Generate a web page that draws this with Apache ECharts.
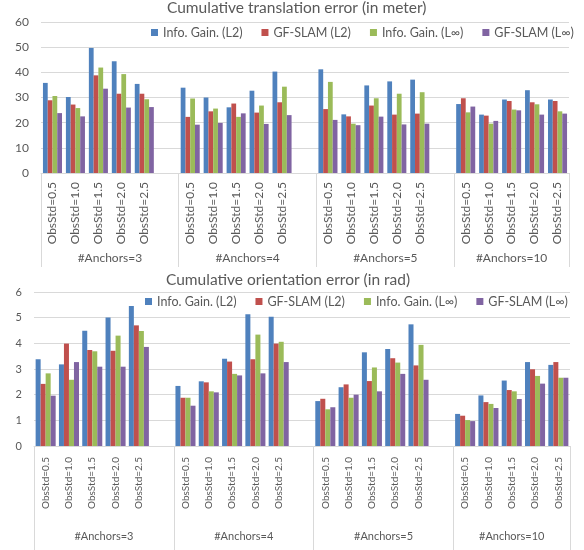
<!DOCTYPE html>
<html>
<head>
<meta charset="utf-8">
<script src="https://cdn.jsdelivr.net/npm/echarts@6/dist/echarts.min.js"></script>
<style>
  html, body {margin: 0; padding: 0; background: #fff;}
  #chart {width: 584px; height: 550px;}
</style>
</head>
<body>
<div id="chart"></div>
<script>
// categories
const obsStd = ['ObsStd=0.5', 'ObsStd=1.0', 'ObsStd=1.5', 'ObsStd=2.0', 'ObsStd=2.5'];
const anchors = ['#Anchors=3', '#Anchors=4', '#Anchors=5', '#Anchors=10'];
const seriesNames = ['Info. Gain. (L2)', 'GF-SLAM (L2)', 'Info. Gain. (L\u221e)', 'GF-SLAM (L\u221e)'];
const colors = ['#4f81bd', '#c0504d', '#9bbb59', '#8064a2'];

// cumulative translation error (m), 5 ObsStd values per anchor group
const transInfoL2 = [35.8, 30.2, 49.7, 44.4, 35.4, 33.9, 30.0, 26.1, 32.7, 40.3, 41.2, 23.3, 34.8, 36.4, 37.1, 27.4, 23.2, 29.2, 32.9, 29.2];
const transGfL2 = [28.9, 27.2, 38.8, 31.5, 31.5, 22.3, 24.5, 27.6, 24.0, 28.1, 25.4, 22.5, 26.8, 23.2, 23.6, 29.7, 22.8, 28.6, 28.1, 28.6];
const transInfoLinf = [30.6, 25.8, 41.9, 39.3, 29.3, 29.6, 25.6, 22.3, 26.8, 34.3, 36.2, 19.6, 29.7, 31.5, 32.1, 24.1, 19.6, 25.2, 27.3, 24.5];
const transGfLinf = [23.8, 22.5, 33.5, 26.0, 26.2, 19.2, 19.9, 23.7, 19.5, 23.0, 21.1, 19.0, 22.4, 19.3, 19.6, 26.4, 20.7, 24.9, 23.2, 23.6];

// cumulative orientation error (rad)
const orientInfoL2 = [3.38, 3.18, 4.49, 5.01, 5.45, 2.34, 2.52, 3.40, 5.13, 5.04, 1.75, 2.29, 3.65, 3.78, 4.74, 1.25, 1.97, 2.55, 3.27, 3.16];
const orientGfL2 = [2.42, 3.99, 3.74, 3.71, 4.70, 1.88, 2.48, 3.29, 3.38, 3.99, 1.84, 2.40, 2.53, 3.42, 3.14, 1.18, 1.71, 2.18, 2.99, 3.27];
const orientInfoLinf = [2.83, 2.58, 3.69, 4.30, 4.48, 1.88, 2.13, 2.81, 4.34, 4.06, 1.43, 1.88, 3.06, 3.25, 3.94, 1.01, 1.64, 2.13, 2.73, 2.66];
const orientGfLinf = [1.96, 3.27, 3.09, 3.09, 3.86, 1.57, 2.09, 2.75, 2.83, 3.27, 1.51, 2.00, 2.13, 2.81, 2.58, 0.97, 1.48, 1.83, 2.43, 2.66];

const transTicks = [0, 10, 20, 30, 40, 50, 60];
const orientTicks = [0, 1, 2, 3, 4, 5, 6];

const font = 'Lato, "Open Sans", sans-serif';
const textColor = '#595959';
const lineColor = '#d9d9d9';

// an empty slot between the anchor groups, like the excel sheet
let cats = [];
let groupStart = [];
let groupMid = [];
anchors.forEach((a, g) => {
  groupStart.push(cats.length);
  obsStd.forEach(o => cats.push(o));
  if (g < anchors.length - 1) cats.push('');
  groupMid.push(cats.length - (g < anchors.length - 1 ? 6 : 5) + (g < anchors.length - 1 ? 3 : 2.5));
});
groupStart.push(cats.length);

function withGaps(vals) {
  let out = [];
  vals.forEach((v, i) => {
    out.push(v);
    if (i % 5 === 4 && i < vals.length - 1) out.push('-');
  });
  return out;
}

function groupAxis(gridIndex, labelMargin, tickLen, fontSize) {
  return {
    type: 'value', gridIndex, position: 'bottom', min: 0, max: cats.length,
    axisLine: {show: false},
    splitLine: {show: false},
    axisTick: {show: true, customValues: groupStart, length: tickLen, lineStyle: {color: lineColor}},
    axisLabel: {
      customValues: groupMid, margin: labelMargin, color: textColor, fontFamily: font, fontSize,
      formatter: v => anchors[groupMid.indexOf(v)] || ''
    }
  };
}

function catAxis(gridIndex, fontSize, margin) {
  return {
    type: 'category', gridIndex, data: cats,
    axisTick: {show: false},
    axisLine: {lineStyle: {color: lineColor}},
    axisLabel: {interval: 0, rotate: 90, margin, color: textColor, fontFamily: font, fontSize}
  };
}

function valAxis(gridIndex, ticks, fontSize) {
  return {
    type: 'value', gridIndex, min: ticks[0], max: ticks[ticks.length - 1], interval: ticks[1] - ticks[0],
    axisLine: {show: false}, axisTick: {show: false},
    splitLine: {lineStyle: {color: lineColor}},
    axisLabel: {color: textColor, fontFamily: font, fontSize, margin: 12}
  };
}

function barSeries(name, vals, axisIdx, gap, color) {
  return {
    name, type: 'bar', xAxisIndex: axisIdx, yAxisIndex: axisIdx / 2,
    data: withGaps(vals), barGap: '0%', barCategoryGap: gap,
    itemStyle: {color}
  };
}

const legendBase = {
  data: seriesNames, padding: 0, itemWidth: 7, itemHeight: 7, itemGap: 19, icon: 'rect',
  textStyle: {fontFamily: font, fontSize: 12.5, color: textColor}
};

const myChart = echarts.init(document.getElementById('chart'));

const option = {
  animation: false,
  color: colors,
  title: [
    {text: 'Cumulative translation error (in meter)', left: 167, top: 0, padding: 0,
      textStyle: {fontFamily: font, fontSize: 15.5, fontWeight: 'normal', color: textColor}},
    {text: 'Cumulative orientation error (in rad)', left: 166, top: 272, padding: 0,
      textStyle: {fontFamily: font, fontSize: 15.5, fontWeight: 'normal', color: textColor}}
  ],
  legend: [
    Object.assign({left: 151, top: 26}, legendBase),
    Object.assign({left: 145, top: 295}, legendBase)
  ],
  grid: [
    {left: 41, right: 15, top: 22, height: 151},
    {left: 34, right: 14, top: 292, height: 154}
  ],
  xAxis: [
    catAxis(0, 12, 9),
    groupAxis(0, 79, 94, 12),
    catAxis(1, 10, 11),
    groupAxis(1, 85, 104, 11)
  ],
  yAxis: [
    valAxis(0, transTicks, 12),
    valAxis(1, orientTicks, 11)
  ],
  series: [
    barSeries(seriesNames[0], transInfoL2, 0, '17%', colors[0]),
    barSeries(seriesNames[1], transGfL2, 0, '17%', colors[1]),
    barSeries(seriesNames[2], transInfoLinf, 0, '17%', colors[2]),
    barSeries(seriesNames[3], transGfLinf, 0, '17%', colors[3]),
    barSeries(seriesNames[0], orientInfoL2, 2, '14%', colors[0]),
    barSeries(seriesNames[1], orientGfL2, 2, '14%', colors[1]),
    barSeries(seriesNames[2], orientInfoLinf, 2, '14%', colors[2]),
    barSeries(seriesNames[3], orientGfLinf, 2, '14%', colors[3])
  ]
};

myChart.setOption(option);
</script>
</body>
</html>
